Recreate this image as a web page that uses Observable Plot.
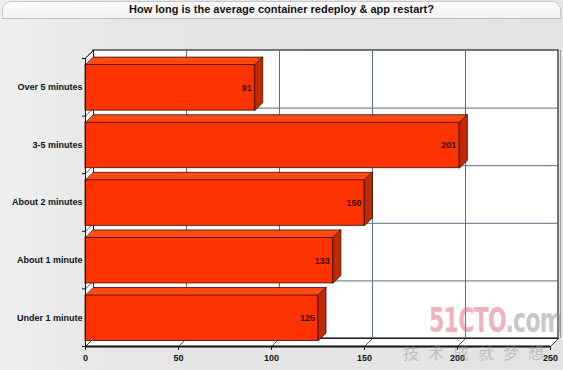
<!DOCTYPE html>
<html>
<head>
<meta charset="utf-8">
<script src="https://cdn.jsdelivr.net/npm/d3@7"></script>
<script src="https://cdn.jsdelivr.net/npm/@observablehq/plot@0.6"></script>
<style>
  html, body { margin: 0; padding: 0; }
  body { width: 563px; height: 370px; overflow: hidden; position: relative;
         background: linear-gradient(to right, #efefef 0px, #e6e6e6 120px, #e3e3e3 563px);
         font-family: "Liberation Sans", Arial, sans-serif; }
  #title { position: relative; height: 20px; }
  #title .panel { position: absolute; left: 2px; right: 2px; top: 1px; height: 16px;
         background: linear-gradient(to bottom, #fbfbfb, #f3f3f3);
         border: 1px solid #c8c8c8; border-bottom: 1px solid #bdbdbd;
         border-radius: 9px 9px 0 0; }
  #title .txt { position: absolute; left: 0; right: 0; top: 3px; text-align: center;
         font-weight: bold; font-size: 11px; color: #111; }
  #chart svg { display: block; }
  .wm1 { position: absolute; left: 429px; top: 300px; font-family: "DejaVu Sans Condensed", "DejaVu Sans", sans-serif;
         font-weight: bold; font-size: 34px; letter-spacing: -1px; color: rgba(225,110,128,0.55);
         transform: scaleX(0.72); transform-origin: left top; white-space: nowrap; }
  .wm1 span { color: rgba(150,150,150,0.55); }
  .wm2 { position: absolute; left: 403px; top: 342px; width: 160px; font-family: "Noto Sans CJK SC", sans-serif;
         font-size: 16px; line-height: 20px; letter-spacing: 9px; color: rgba(150,150,150,0.5); white-space: nowrap; }
</style>
</head>
<body>
<div id="title"><div class="panel"></div><div class="txt">How long is the average container redeploy &amp; app restart?</div></div>
<div id="chart"></div>
<div class="wm1">51CTO<span>.com</span></div>
<div class="wm2">技术成就梦想</div>
<script>
const categories = ["Over 5 minutes", "3-5 minutes", "About 2 minutes", "About 1 minute", "Under 1 minute"];
const values = [91, 201, 150, 133, 125];
const xTicks = [0, 50, 100, 150, 200, 250];
const xGrid = [50, 100, 150, 200];

// layout constants
const W = 563, H = 350, mL = 85, mR = 13, mT = 38, mB = 24;
const xMax = 250, nCat = categories.length;
const kx = (W - mR - mL) / xMax;
const ky = (H - mB - mT) / nCat;
const D = 8;             // 3D depth in px
const dxD = D / kx, dyD = D / ky;
const barTop = 0.115, barBot = 0.905;

const rows = categories.map((c, i) => ({cat: c, i, v: values[i]}));

// polygons for bar top faces and right faces
const topFaces = [], sideFaces = [];
rows.forEach(r => {
  const y0 = r.i + barTop, y1 = r.i + barBot;
  [[0, y0], [r.v, y0], [r.v + dxD, y0 - dyD], [dxD, y0 - dyD]].forEach(([x, y]) => topFaces.push({k: r.cat, x, y}));
  [[r.v, y0], [r.v, y1], [r.v + dxD, y1 - dyD], [r.v + dxD, y0 - dyD]].forEach(([x, y]) => sideFaces.push({k: r.cat, x, y}));
});
const floor = [[0, nCat], [xMax, nCat], [xMax + dxD, nCat - dyD], [dxD, nCat - dyD]].map(([x, y]) => ({k: "f", x, y}));
const leftWall = [[0, 0], [0, nCat], [dxD, nCat - dyD], [dxD, -dyD]].map(([x, y]) => ({k: "l", x, y}));
const bounds = d3.range(0, nCat + 1);

const gridColor = "#566f8c";
const barFront = "#ff3300", barTopC = "#ff4a14", barSide = "#c42800", barEdge = "#3d0c00";

const plot = Plot.plot({
  width: W, height: H,
  marginLeft: mL, marginRight: mR, marginTop: mT, marginBottom: mB,
  style: {background: "transparent", fontFamily: "Liberation Sans, Arial, sans-serif", overflow: "visible"},
  x: {domain: [0, xMax], axis: null},
  y: {domain: [nCat, 0], axis: null},
  marks: [
    // back wall
    Plot.rect([{}], {x1: () => 0, x2: () => xMax, y1: () => 0, y2: () => nCat, dx: D, dy: -D, fill: "white", stroke: "#222", strokeWidth: 1.2}),
    Plot.ruleX(xGrid, {x: d => d, y1: () => 0, y2: () => nCat, dx: D, dy: -D, stroke: gridColor, strokeWidth: 1}),
    Plot.ruleY(bounds.slice(1, -1), {y: d => d, x1: () => 0, x2: () => xMax, dx: D, dy: -D, stroke: gridColor, strokeWidth: 1}),
    // right shadow of back wall
    Plot.ruleX([xMax], {x: d => d, y1: () => 0, y2: () => nCat, dx: D + 2, dy: -D, stroke: "#9a9a9a", strokeWidth: 1}),
    // floor and left wall
    Plot.line(floor, {x: "x", y: "y", z: "k", curve: "linear-closed", fill: "white", stroke: "#222", strokeWidth: 1}),
    Plot.line(leftWall, {x: "x", y: "y", z: "k", curve: "linear-closed", fill: "white", stroke: "#222", strokeWidth: 1}),
    // floor diagonals
    Plot.link(xTicks, {x1: d => d, y1: () => nCat, x2: d => d + dxD, y2: () => nCat - dyD, stroke: "#333", strokeWidth: 0.8}),
    // left wall diagonals
    Plot.link(bounds, {x1: () => 0, y1: d => d, x2: () => dxD, y2: d => d - dyD, stroke: "#333", strokeWidth: 0.8}),
    // bars
    Plot.line(topFaces, {x: "x", y: "y", z: "k", curve: "linear-closed", fill: barTopC, stroke: barEdge, strokeWidth: 0.8}),
    Plot.line(sideFaces, {x: "x", y: "y", z: "k", curve: "linear-closed", fill: barSide, stroke: barEdge, strokeWidth: 0.8}),
    Plot.rect(rows, {x1: () => 0, x2: "v", y1: d => d.i + barTop, y2: d => d.i + barBot, fill: barFront, stroke: barEdge, strokeWidth: 0.8}),
    // value labels
    Plot.text(rows, {x: "v", y: d => d.i + 0.51, text: d => String(d.v), textAnchor: "end", dx: -3, fontWeight: "bold", fontSize: 9, fill: "#3a0800"}),
    // front axes
    Plot.ruleX([0], {x: d => d, y1: () => 0, y2: () => nCat, stroke: "#111", strokeWidth: 1}),
    Plot.ruleY([nCat], {y: d => d, x1: () => 0, x2: () => xMax, stroke: "#111", strokeWidth: 2}),
    Plot.ruleY(bounds, {y: d => d, x1: () => -3 / kx, x2: () => 0, stroke: "#111", strokeWidth: 1}),
    Plot.ruleX(xTicks, {x: d => d, y1: () => nCat, y2: () => nCat + 4 / ky, stroke: "#111", strokeWidth: 1}),
    // tick labels
    Plot.text(xTicks, {x: d => d, y: () => nCat, dy: 12, text: d => String(d), fontWeight: "bold", fontSize: 9, fill: "#111"}),
    Plot.text(rows, {x: () => 0, y: d => d.i + 0.5, text: "cat", textAnchor: "end", dx: -3, fontWeight: "bold", fontSize: 9, fill: "#111"})
  ]
});
document.getElementById("chart").appendChild(plot);
</script>
</body>
</html>
